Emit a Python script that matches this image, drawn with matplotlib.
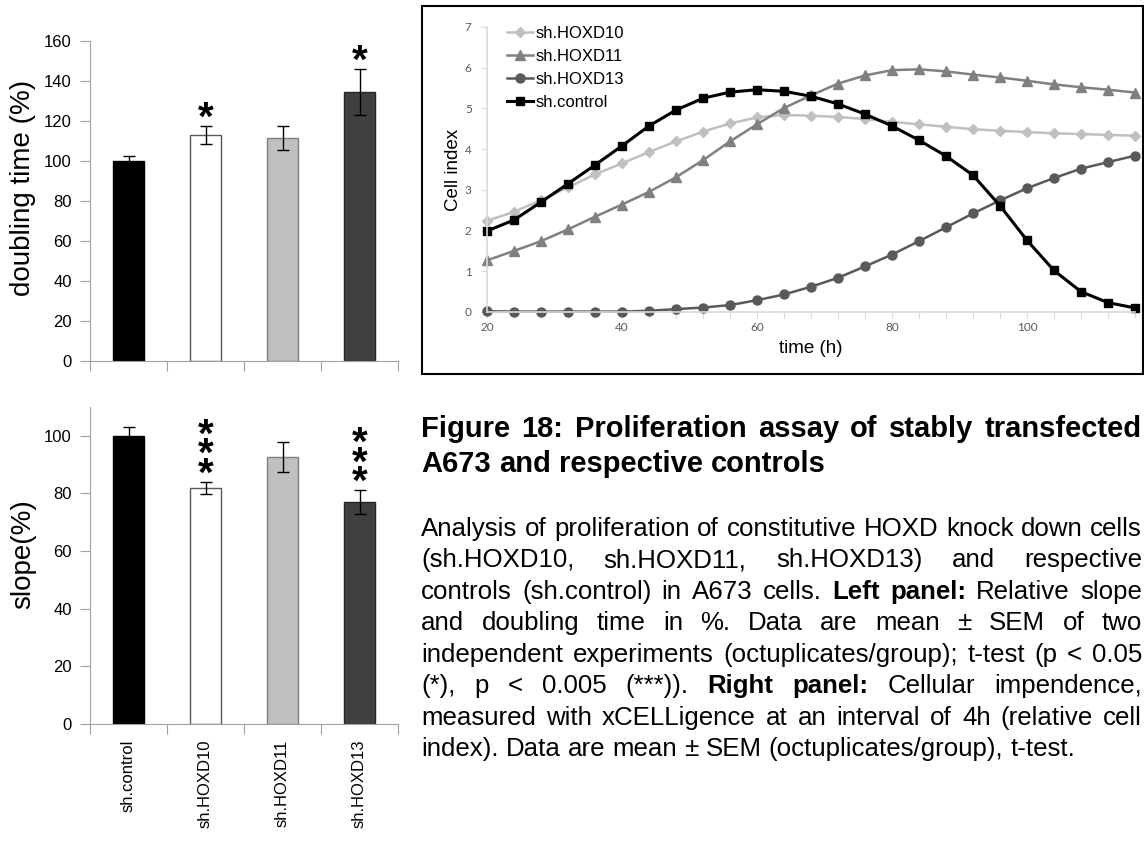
import numpy as np
import matplotlib.pyplot as plt
from matplotlib.patches import Rectangle
from matplotlib.transforms import offset_copy

plt.rcParams['font.family'] = ['Liberation Sans', 'DejaVu Sans']

W, H = 1144, 843

# bar charts (left panel)
groups = ['sh.control', 'sh.HOXD10', 'sh.HOXD11', 'sh.HOXD13']
doubling = [100.0, 112.8, 111.6, 134.5]
doubling_err = [2.6, 4.5, 6.1, 11.6]
doubling_stars = [0, 1, 0, 1]
slope = [100.0, 81.9, 92.7, 77.0]
slope_err = [2.9, 2.2, 5.1, 4.2]
slope_stars = [0, 3, 0, 3]
bar_colors = ['#000000', '#ffffff', '#c0c0c0', '#404040']
bar_edges = ['#000000', '#595959', '#7f7f7f', '#262626']

# xCELLigence curves (right panel)
time_h = [20, 24, 28, 32, 36, 40, 44, 48, 52, 56, 60, 64, 68,
          72, 76, 80, 84, 88, 92, 96, 100, 104, 108, 112, 116]
ci_hoxd10 = [2.24, 2.46, 2.75, 3.06, 3.38, 3.65, 3.93, 4.19, 4.43, 4.63, 4.78, 4.84, 4.82,
             4.79, 4.74, 4.67, 4.61, 4.55, 4.49, 4.45, 4.42, 4.39, 4.37, 4.35, 4.33]
ci_hoxd11 = [1.27, 1.50, 1.74, 2.03, 2.34, 2.64, 2.95, 3.31, 3.73, 4.19, 4.61, 5.01, 5.32,
             5.61, 5.81, 5.94, 5.96, 5.91, 5.83, 5.76, 5.68, 5.59, 5.52, 5.46, 5.39]
ci_hoxd13 = [0.02, 0.01, 0.01, 0.01, 0.01, 0.01, 0.03, 0.07, 0.11, 0.17, 0.29, 0.43, 0.62,
             0.84, 1.12, 1.41, 1.74, 2.08, 2.42, 2.74, 3.04, 3.29, 3.52, 3.68, 3.84]
ci_control = [1.99, 2.26, 2.70, 3.15, 3.61, 4.08, 4.57, 4.96, 5.25, 5.40, 5.46, 5.42, 5.30,
              5.11, 4.86, 4.57, 4.22, 3.83, 3.36, 2.61, 1.76, 1.02, 0.50, 0.23, 0.10]


def px_rect(l, t, r, b):
    return [l / W, 1 - b / H, (r - l) / W, (b - t) / H]


fig = plt.figure(figsize=(W / 100, H / 100), dpi=100)
axis_grey = '#a0a0a0'


def bar_panel(rect, values, errs, stars, ytop, ylabel, label_y, show_names):
    ax = fig.add_axes(rect)
    x = np.arange(len(groups))
    ax.bar(x, values, width=0.39, color=bar_colors, edgecolor=bar_edges,
           linewidth=1, zorder=2)
    ax.errorbar(x, values, yerr=errs, fmt='none', ecolor='black', elinewidth=1,
                capsize=4, capthick=1, zorder=3)
    ax.set_xlim(-0.5, 3.5)
    ax.set_ylim(0, ytop)
    ax.set_yticks(np.arange(0, ytop + 1, 20))
    for s in ['top', 'right']:
        ax.spines[s].set_visible(False)
    for s in ['left', 'bottom']:
        ax.spines[s].set_color(axis_grey)
    ax.set_xticks(np.arange(-0.5, 4, 1))
    ax.set_xticklabels([])
    ax.set_xticks(x, minor=True)
    ax.set_xticklabels(groups if show_names else [], minor=True, rotation=90,
                       fontsize=12)
    ax.tick_params(axis='x', which='major', length=7, color=axis_grey)
    ax.tick_params(axis='x', which='minor', length=0, pad=11)
    ax.tick_params(axis='y', length=7, color=axis_grey, labelsize=12, pad=6)
    ax.set_ylabel(ylabel, fontsize=20)
    ax.yaxis.set_label_coords(-0.175, label_y)
    # significance asterisks, stacked above the error bar
    for i, n in enumerate(stars):
        if n == 0:
            continue
        tr = offset_copy(ax.transData, fig=fig, x=0, y=-8.5, units='points')
        ax.text(i, values[i] + errs[i], '\n'.join(['*'] * n), transform=tr,
                ha='center', va='bottom', fontsize=29, fontweight='bold',
                linespacing=0.38, zorder=4)
    return ax


bar_panel(px_rect(90, 41, 398, 361), doubling, doubling_err, doubling_stars, 160,
          'doubling time (%)', 0.54, False)
bar_panel(px_rect(90, 407, 398, 724), slope, slope_err, slope_stars, 110,
          'slope(%)', 0.535, True)

# right panel: cell index over time
fig.patches.append(Rectangle((422 / W, 1 - 374 / H), (1143 - 422) / W, (374 - 6) / H,
                             transform=fig.transFigure, fill=False, ec='black', lw=1.5))
ax3 = fig.add_axes(px_rect(487, 27, 1135, 312))
series = [
    ('sh.HOXD10', ci_hoxd10, '#c0c0c0', 'D', 5, 1.8),
    ('sh.HOXD11', ci_hoxd11, '#808080', '^', 6.5, 1.8),
    ('sh.HOXD13', ci_hoxd13, '#595959', 'o', 6.5, 1.8),
    ('sh.control', ci_control, '#000000', 's', 6, 2.2),
]
for name, vals, col, mk, ms, lw in series:
    ax3.plot(time_h, vals, color=col, marker=mk, markersize=ms, lw=lw,
             label=name, clip_on=False)
ax3.set_xlim(20, 116)
ax3.set_ylim(0, 7)
for s in ['top', 'right']:
    ax3.spines[s].set_visible(False)
for s in ['left', 'bottom']:
    ax3.spines[s].set_color('#d9d9d9')
    ax3.spines[s].set_linewidth(1.2)
ax3.set_xticks(time_h)
ax3.set_xticklabels([str(t) if t % 20 == 0 else '' for t in time_h])
ax3.set_yticks(range(8))
ax3.tick_params(axis='both', length=4, color='#d9d9d9', labelsize=8.5,
                labelcolor='#595959')
ax3.tick_params(axis='x', pad=3)
ax3.tick_params(axis='y', pad=7)
for lab in ax3.get_xticklabels() + ax3.get_yticklabels():
    lab.set_family(['Lato', 'DejaVu Sans'])
ax3.set_ylabel('Cell index', fontsize=13.5)
ax3.yaxis.set_label_coords(-0.039, 0.5)
ax3.set_xlabel('time (h)', fontsize=13.5)
ax3.xaxis.set_label_coords(0.5, -0.1)
ax3.legend(loc='upper left', bbox_to_anchor=(507 / W, 1 - 26 / H),
           bbox_transform=fig.transFigure, frameon=False, fontsize=12,
           borderpad=0, borderaxespad=0, handlelength=1.55, handletextpad=0.15,
           labelspacing=0.48)

# caption, justified like the source document
L, R = 421, 1142
renderer = fig.canvas.get_renderer()


def put_line(segments, yc, size, justify):
    words = []
    for txt, bold in segments:
        for w in txt.split():
            words.append((w, bold))
    texts = []
    for w, bold in words:
        t = fig.text(0, 1 - (yc + 0.3 * size * 100 / 72) / H, w, fontsize=size,
                     fontweight='bold' if bold else 'normal', va='baseline', ha='left')
        texts.append(t)
    widths = [t.get_window_extent(renderer).width for t in texts]
    if justify and len(texts) > 1:
        gap = (R - L - sum(widths)) / (len(texts) - 1)
    else:
        gap = 0.278 * size * 100 / 72
    x = L
    for t, w in zip(texts, widths):
        t.set_x(x / W)
        x += w + gap


title = [
    [('Figure 18: Proliferation assay of stably transfected', True)],
    [('A673 and respective controls', True)],
]
body = [
    [('Analysis of proliferation of constitutive HOXD knock down cells', False)],
    [('(sh.HOXD10, sh.HOXD11, sh.HOXD13) and respective', False)],
    [('controls (sh.control) in A673 cells.', False), ('Left panel:', True),
     ('Relative slope', False)],
    [('and doubling time in %. Data are mean \u00b1 SEM of two', False)],
    [('independent experiments (octuplicates/group); t-test (p < 0.05', False)],
    [('(*), p < 0.005 (***)).', False), ('Right panel:', True),
     ('Cellular impendence,', False)],
    [('measured with xCELLigence at an interval of 4h (relative cell', False)],
    [('index). Data are mean \u00b1 SEM (octuplicates/group), t-test.', False)],
]
put_line(title[0], 428, 21, True)
put_line(title[1], 463, 21, False)
for k, seg in enumerate(body):
    put_line(seg, 528 + 31.5 * k, 18.6, k < len(body) - 1)

fig.savefig('out.png', dpi=100)
